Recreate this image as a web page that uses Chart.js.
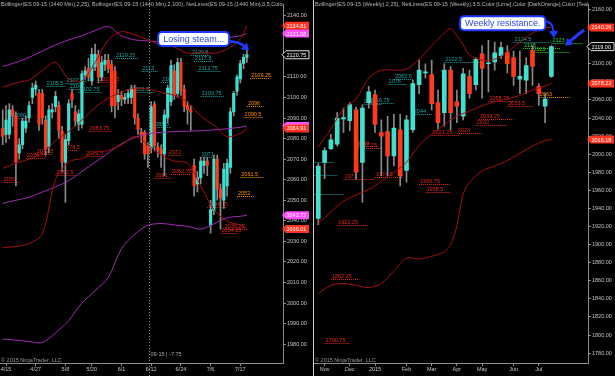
<!DOCTYPE html>
<html>
<head>
<meta charset="utf-8">
<title>ES 09-15 daily / weekly</title>
<script src="https://cdn.jsdelivr.net/npm/chart.js@4.4.1/dist/chart.umd.min.js"></script>
<style>
  html, body { margin: 0; background: #000; }
  #wrap { position: relative; width: 615px; height: 376px; overflow: hidden; background: #000; }
  #daily { position: absolute; left: 0; top: 0; }
  #weekly { position: absolute; left: 311px; top: 0; }
  #split { position: absolute; left: 313px; top: 0; width: 1px; height: 376px; background: #cfcfcf; }
</style>
</head>
<body>
<div id="wrap">
  <canvas id="daily" width="310" height="376"></canvas>
  <canvas id="weekly" width="304" height="376"></canvas>
  <div id="split"></div>
</div>
<script>
// ---------- daily panel (ES 09-15, 1440 min) ----------
const dayLabels = ['4/15', '4/27', '5/8', '5/20', '6/1', '6/12', '6/24', '7/6', '7/17'];
const dayLabelIdx = [1, 10, 19, 27, 36, 45, 54, 63, 72];
const dayPriceTicks = [1980, 1990, 2000, 2010, 2020, 2030, 2040, 2050, 2060, 2070, 2080, 2090, 2100, 2110, 2120, 2130, 2140];

const dayOpen = [2085, 2082, 2082, 2094, 2091, 2073, 2077, 2085, 2090, 2100,
  2104, 2102, 2102, 2089, 2076, 2093, 2095.5, 2096, 2083.5, 2068.5,
  2079, 2102, 2093, 2087, 2087, 2111, 2114, 2108, 2115, 2121,
  2110, 2116, 2118, 2116, 2113, 2098, 2101, 2099, 2100, 2100,
  2104.5, 2090, 2083, 2083, 2076.5, 2075.5, 2096.5, 2076, 2075, 2072.5,
  2090, 2098, 2113, 2102, 2117, 2104, 2096, 2094, 2067, 2058,
  2061, 2067, 2069, 2038, 2045, 2070, 2055.5, 2050, 2057, 2066,
  2093, 2103, 2109, 2116.5, 2119.5];
const dayHigh = [2094, 2096, 2097, 2096, 2093, 2080, 2090, 2091, 2098, 2107,
  2108, 2104, 2104, 2091, 2096, 2097, 2103, 2098, 2086, 2082,
  2099, 2104, 2096, 2094, 2113, 2115, 2119, 2124, 2126, 2123,
  2120, 2121, 2121, 2118, 2115, 2104, 2103, 2102, 2104, 2106,
  2106, 2092, 2085, 2084, 2078, 2098, 2098, 2078, 2077, 2094,
  2106, 2118, 2116, 2119, 2119, 2106, 2098, 2096, 2070, 2064,
  2071, 2071, 2071, 2050, 2072, 2072, 2058, 2068, 2070, 2095,
  2103, 2111, 2118, 2121, 2123];
const dayLow = [2077, 2078, 2080, 2086, 2057, 2070, 2075, 2083, 2088, 2097,
  2101, 2084, 2087, 2072, 2073, 2090, 2093, 2080, 2064, 2049,
  2077, 2095, 2086, 2084, 2085, 2109, 2108, 2106, 2113, 2107,
  2108, 2113, 2112, 2093, 2090, 2094, 2096, 2097, 2097, 2097,
  2087, 2082, 2078, 2070, 2066, 2073, 2074, 2071, 2066, 2062,
  2088, 2096, 2099, 2100, 2101, 2093, 2087, 2084, 2052, 2054,
  2058, 2063, 2062, 2034, 2043, 2050, 2036, 2046, 2052, 2063,
  2091, 2101, 2107, 2114, 2117];
const dayClose = [2081, 2089, 2094, 2091, 2068.5, 2077, 2088.5, 2088.5, 2096, 2104.5,
  2106, 2087, 2090, 2075, 2094, 2094, 2100.5, 2084, 2068.5, 2079.5,
  2097, 2099, 2088.5, 2092, 2111.5, 2113, 2110, 2121, 2121, 2110,
  2117, 2118, 2114, 2096, 2096, 2101, 2099, 2100, 2102, 2104.5,
  2090, 2084.5, 2082, 2072.5, 2072.5, 2095.5, 2076.5, 2074.5, 2072.5, 2091.5,
  2104.5, 2115.5, 2101, 2117, 2103.5, 2095.5, 2094, 2093, 2057, 2061,
  2069, 2069, 2067, 2045.5, 2070, 2055.5, 2051, 2065, 2068, 2093,
  2102, 2110, 2116.5, 2119.5, 2120.75];

// bollinger bands, read at these bar numbers
const dayBandIdx = [0, 4, 8, 12, 16, 20, 24, 28, 32, 36, 40, 44, 48, 52, 56, 60, 64, 68, 72, 74];
const dayBb25Up = [2105, 2107, 2108.5, 2113, 2117, 2109, 2108, 2117, 2128, 2132, 2130.5, 2128, 2125.5, 2124.5, 2121.5, 2122, 2121.5, 2123.5, 2128.5, 2134.81];
const dayBb25Mid = [2065.5, 2068, 2070, 2073, 2079, 2083.5, 2089, 2095, 2099.7, 2102.5, 2104.5, 2104, 2102.5, 2101, 2097.5, 2091, 2086.5, 2081, 2082.5, 2084.91];
const dayBb25Low = [2027, 2027.5, 2029, 2033.5, 2060, 2068.7, 2070.3, 2073.3, 2074.2, 2077, 2081, 2077, 2072, 2069, 2068, 2057, 2045.5, 2039.7, 2038, 2036.01];
const dayBb100Up = [2115, 2117, 2119.5, 2122.5, 2125.5, 2128, 2130, 2132.5, 2134.5, 2130, 2128, 2127.5, 2127, 2127, 2127.5, 2128, 2128.3, 2129, 2130, 2131.08];
const dayBb100Mid = [2048.5, 2050, 2051.5, 2054, 2056.5, 2059.5, 2064, 2068.5, 2073, 2077.5, 2080.5, 2082.3, 2083, 2083.4, 2083.6, 2083.8, 2084.2, 2084.8, 2085.5, 2086.06];
const dayBb100Low = [1982.5, 1982, 1981.3, 1980.8, 1985.5, 1991.5, 2000, 2006, 2012.5, 2026.5, 2033.5, 2037.8, 2038.7, 2038, 2037.3, 2036, 2038.5, 2041.5, 2042.2, 2042.72];

// NetLines: [price, from bar, to bar]
const dayNetTeal = [[2105.5, 13, 19], [2107.25, 19, 25], [2104, 20, 24], [2102.75, 23, 30], [2090, 3, 7],
  [2119.25, 34, 41], [2113, 42, 47], [2102.5, 39, 46], [2107.75, 48, 53], [2102, 49, 53],
  [2085.5, 45, 51], [2120.5, 57, 63], [2117.5, 58, 64], [2112.75, 59, 66], [2100.75, 60, 67], [2071, 60, 64]];
const dayNetRed = [[2083.75, 26, 33], [2072.5, 10, 15], [2070.75, 7, 13], [2074.5, 18, 23], [2071.5, 25, 31],
  [2062.5, 16, 22], [2059, 0, 5], [2107.75, 29, 35], [2072, 50, 54], [2061, 46, 51],
  [2062.75, 51, 57], [2046.75, 62, 68], [2036.25, 67, 74], [2034.25, 66, 71]];
const dayNetOrange = [[2109.25, 75, 81], [2096, 74, 79], [2090.5, 73, 79], [2061.5, 72, 79], [2052, 71, 76]];

// ---------- weekly panel (ES 09-15, weekly) ----------
const wkLabels = ['Nov', 'Dec', '2015', 'Feb', 'Mar', 'Apr', 'May', 'Jun', 'Jul'];
const wkLabelIdx = [1, 5, 9, 14, 18, 22, 26, 31, 35];
const wkPriceTicks = [1780, 1800, 1820, 1840, 1860, 1880, 1900, 1920, 1940, 1960, 1980, 2000, 2020, 2040, 2060, 2080, 2100, 2120, 2140, 2160];

const wkOpen = [1929, 1991, 2006, 2011, 2039, 2037, 2049, 1991, 2057, 2066,
  2024, 2025, 1998, 2027, 1982, 2027, 2077, 2090, 2088, 2057,
  2046, 2093, 2058, 2042, 2086, 2077, 2111, 2100, 2102, 2109,
  2113, 2107, 2083, 2082, 2115, 2075, 2053, 2086];
const wkHigh = [1990, 2007, 2022, 2046, 2051, 2057, 2052, 2054, 2075, 2071,
  2038, 2042, 2044, 2044, 2043, 2082, 2104, 2100, 2104, 2071,
  2100, 2097, 2071, 2095, 2093, 2107, 2120, 2126, 2124, 2124,
  2120, 2114, 2114, 2107, 2120, 2078, 2067, 2120];
const wkLow = [1922, 1973, 2005, 2009, 2024, 2026, 1972, 1947, 2051, 2024,
  1976, 1976, 1987, 1965, 1969, 2024, 2067, 2084, 2049, 2027,
  2031, 2027, 2035, 2038, 2062, 2071, 2062, 2069, 2093, 2106,
  2090, 2076, 2067, 2067, 2076, 2054, 2035, 2085];
const wkClose = [1987, 2004, 2016, 2040, 2040.5, 2055, 1980, 2051, 2069, 2033,
  2020, 1998, 2029, 1976, 2038, 2078, 2093, 2090.5, 2056, 2035,
  2093, 2046, 2053, 2089, 2067, 2105, 2095, 2100.5, 2112, 2118,
  2100, 2086, 2086, 2098, 2097, 2067, 2061, 2119];

const wkBandIdx = [0, 2, 4, 6, 8, 10, 12, 14, 16, 18, 20, 21, 22, 23, 24, 26, 28, 30, 32, 34, 36, 37];
const wkBbUp = [2008, 2028, 2050, 2061, 2084, 2093, 2093, 2094, 2105, 2120, 2134, 2139, 2131, 2121, 2110, 2104, 2105, 2113, 2124, 2134, 2139.5, 2140.26];
const wkBbMid = [1924, 1936, 1948, 1955, 1961, 1970, 1980, 1991, 2010, 2022, 2033, 2038, 2042, 2045, 2047.5, 2053.5, 2058, 2061, 2065, 2071, 2075.5, 2078.22];
const wkBbLow = [1846, 1855, 1857, 1855, 1852.5, 1857, 1871, 1885, 1884, 1887, 1892, 1900, 1921, 1956, 1969, 1981.5, 1987, 1993, 2001, 2009, 2015, 2016.18];

const wkNetTeal = [[2078, 11, 14], [2083.5, 12, 15], [2056.75, 8, 12], [2055, 7, 10], [2044, 15, 18],
  [2102.5, 20, 26], [2124.5, 31, 37], [1991.75, -6, 2.5], [1977, -6, 3], [1956.5, -6, 4]];
const wkNetLime = [[2118, 32.5, 38.5], [2113, 34, 40], [2123, 37, 42]];
const wkNetOrange = [[2063, 35, 40]];
const wkNetRed = [[2009, 6, 9.5], [2007.25, 6, 10], [1973, 4, 9], [1974.5, 9, 13.5], [2021.25, 18, 22.5],
  [2023, 22, 26], [2039.25, 25.5, 31], [2032, 25, 30], [2058.75, 27, 31], [2053.5, 30, 34],
  [1966.75, 16, 21], [1958.5, 17, 21], [1922.25, 3, 8], [1862.25, 2, 6.5], [1790.75, 1, 5]];

// ---------- styling ----------
const UP = '#3fe0d0';
const DOWN = '#ff3b1c';
const WICK = '#8a8a8a';
const AXIS = '#8c8c8c';
const TEXT = '#c4c4c4';
const DARKRED = '#a80f0f';
const PURPLE = '#a42ab6';
const TEAL = '#1fa6a6';
const NETRED = '#e8281a';
const ORANGE = '#ff8c00';
const LIME = '#2ed82e';
const TAGRED = '#ff3320';
const TAGPINK = '#ff4cff';
const SMALL = '5.5px "Liberation Sans", Arial, sans-serif';

Chart.defaults.font.family = '"Liberation Sans", Arial, sans-serif';
Chart.defaults.font.size = 5.5;
Chart.defaults.color = TEXT;

const last = a => a[a.length - 1];

function arrow(ctx, p0, p1, p2, lw) {
  const ang = Math.atan2(p2[1] - p1[1], p2[0] - p1[0]);
  const hl = 7, hw = 4.5;
  const bx = p2[0] - Math.cos(ang) * hl, by = p2[1] - Math.sin(ang) * hl;
  ctx.lineWidth = lw;
  ctx.beginPath();
  ctx.moveTo(p0[0], p0[1]);
  ctx.quadraticCurveTo(p1[0], p1[1], bx, by);
  ctx.stroke();
  ctx.beginPath();
  ctx.moveTo(p2[0], p2[1]);
  ctx.lineTo(bx + Math.sin(ang) * hw, by - Math.cos(ang) * hw);
  ctx.lineTo(bx - Math.sin(ang) * hw, by + Math.cos(ang) * hw);
  ctx.closePath();
  ctx.fill();
}

function overlay(cfg) {
  return {
    id: 'overlay',
    beforeDatasetsDraw(chart) {
      const { ctx, chartArea: a, scales: { x, y } } = chart;
      ctx.save();
      ctx.beginPath();
      ctx.rect(a.left, a.top, a.right - a.left, a.bottom - a.top);
      ctx.clip();
      ctx.font = SMALL;
      ctx.lineWidth = 1;
      ctx.setLineDash([1, 1]);
      for (const [list, color] of cfg.nets) {
        ctx.strokeStyle = color;
        ctx.fillStyle = color;
        for (const [v, from, to] of list) {
          const py = Math.round(y.getPixelForValue(v)) + 0.5;
          const x0 = x.getPixelForValue(from), x1 = x.getPixelForValue(to);
          ctx.beginPath();
          ctx.moveTo(x0, py);
          ctx.lineTo(x1, py);
          ctx.stroke();
          ctx.fillText(String(v), x0 + 1, py - 1.5);
        }
      }
      ctx.restore();
    },
    afterDraw(chart) {
      const { ctx, chartArea: a, scales: { x, y } } = chart;
      ctx.save();
      ctx.font = SMALL;

      // indicator legend along the top
      ctx.save();
      ctx.beginPath();
      ctx.rect(a.left, 0, a.right - a.left, 12);
      ctx.clip();
      ctx.fillStyle = '#b8b8b8';
      ctx.textBaseline = 'top';
      ctx.fillText(cfg.legend, a.left + 1, 1.5);
      ctx.restore();

      ctx.fillStyle = '#9a9a9a';
      ctx.textBaseline = 'alphabetic';
      ctx.fillText('\u00a9 2015 NinjaTrader, LLC', a.left + 1, a.bottom - 1);

      if (cfg.cross) {
        const px = Math.round(x.getPixelForValue(cfg.cross.at)) + 0.5;
        ctx.strokeStyle = '#9a9a9a';
        ctx.lineWidth = 1;
        ctx.setLineDash([1, 2]);
        ctx.beginPath();
        ctx.moveTo(px, 0);
        ctx.lineTo(px, chart.height);
        ctx.stroke();
        ctx.setLineDash([]);
        ctx.fillStyle = '#a8a8a8';
        ctx.fillText(cfg.cross.text, px + 1, a.bottom - 7);
      }

      // callout box + arrows
      const c = cfg.callout;
      const bx = x.getPixelForValue(c.at[0]), by = y.getPixelForValue(c.at[1]);
      ctx.font = '9px "Liberation Sans", Arial, sans-serif';
      const w = ctx.measureText(c.text).width + 10, h = 14;
      ctx.fillStyle = '#ffffff';
      ctx.strokeStyle = '#1c37ff';
      ctx.lineWidth = 2;
      ctx.beginPath();
      ctx.roundRect(bx, by, w, h, 4);
      ctx.fill();
      ctx.stroke();
      ctx.fillStyle = '#2b45e0';
      ctx.textBaseline = 'middle';
      ctx.fillText(c.text, bx + 5, by + h / 2 + 0.5);
      ctx.strokeStyle = '#1f3bff';
      ctx.fillStyle = '#1f3bff';
      for (const ar of c.arrows) {
        const pts = ar.pts.map(p => [x.getPixelForValue(p[0]), y.getPixelForValue(p[1])]);
        arrow(ctx, pts[0], pts[1], pts[2], ar.lw);
      }

      // price tags on the axis
      ctx.font = SMALL;
      for (const [v, bg, border] of cfg.tags) {
        const py = y.getPixelForValue(v);
        const x0 = a.right - 1, x1 = a.right + 26;
        ctx.beginPath();
        ctx.moveTo(x0, py);
        ctx.lineTo(x0 + 4, py - 4);
        ctx.lineTo(x1, py - 4);
        ctx.lineTo(x1, py + 4);
        ctx.lineTo(x0 + 4, py + 4);
        ctx.closePath();
        ctx.fillStyle = bg;
        ctx.fill();
        if (border) {
          ctx.strokeStyle = border;
          ctx.lineWidth = 1;
          ctx.stroke();
        }
        ctx.fillStyle = '#ffffff';
        ctx.textBaseline = 'middle';
        ctx.fillText(v.toFixed(2), x0 + 4.5, py + 0.5);
      }
      ctx.restore();
    }
  };
}

function makeChart(id, p) {
  const idx = p.open.map((_, i) => i);
  const band = vals => p.bandIdx.map((k, j) => ({ x: k, y: vals[j] }));
  const lines = p.bands.map(([vals, color]) => ({
    type: 'line',
    data: band(vals),
    borderColor: color,
    borderWidth: 1,
    pointRadius: 0,
    tension: 0.3,
    order: 0
  }));
  return new Chart(document.getElementById(id), {
    type: 'bar',
    data: {
      datasets: [
        ...lines,
        {
          data: idx.map(i => ({ x: i, y: [p.open[i], p.close[i]] })),
          backgroundColor: idx.map(i => p.close[i] >= p.open[i] ? UP : DOWN),
          barThickness: p.bodyW,
          minBarLength: 1,
          grouped: false,
          order: 1
        },
        {
          data: idx.map(i => ({ x: i, y: [p.low[i], p.high[i]] })),
          backgroundColor: WICK,
          barThickness: 1,
          grouped: false,
          order: 2
        }
      ]
    },
    options: {
      responsive: false,
      animation: false,
      events: [],
      layout: { padding: { left: p.padLeft, right: 0, top: 0, bottom: 0 } },
      plugins: { legend: { display: false }, tooltip: { enabled: false } },
      scales: {
        x: {
          type: 'linear',
          bounds: 'data',
          min: p.xMin,
          max: p.xMax,
          offset: false,
          border: { color: AXIS },
          grid: { drawOnChartArea: false, offset: false, color: AXIS, tickLength: 3 },
          ticks: {
            autoSkip: false,
            maxRotation: 0,
            padding: 0,
            color: TEXT,
            callback: v => p.labels[p.labelIdx.indexOf(v)] ?? ''
          },
          afterBuildTicks: s => { s.ticks = p.labelIdx.map(v => ({ value: v })); },
          afterFit: s => { s.height = 13; }
        },
        y: {
          position: 'right',
          bounds: 'data',
          min: p.yMin,
          max: p.yMax,
          border: { color: AXIS },
          grid: { drawOnChartArea: false, color: AXIS, tickLength: 3 },
          ticks: { color: TEXT, padding: 1, callback: v => v.toFixed(2) },
          afterBuildTicks: s => { s.ticks = p.priceTicks.map(v => ({ value: v })); },
          afterFit: s => { s.width = 27; }
        }
      }
    },
    plugins: [overlay(p.overlay)]
  });
}

makeChart('daily', {
  open: dayOpen, high: dayHigh, low: dayLow, close: dayClose,
  labels: dayLabels, labelIdx: dayLabelIdx, priceTicks: dayPriceTicks,
  bandIdx: dayBandIdx,
  bands: [[dayBb25Up, DARKRED], [dayBb25Mid, DARKRED], [dayBb25Low, DARKRED],
          [dayBb100Up, PURPLE], [dayBb100Mid, PURPLE], [dayBb100Low, PURPLE]],
  bodyW: 2.5, padLeft: 0,
  xMin: -0.82, xMax: 84.94, yMin: 1970.87, yMax: 2145.29,
  overlay: {
    legend: 'Bollinger(ES 09-15 (1440 Min),2,25), Bollinger(ES 09-15 (1440 Min),2,100), NetLines(ES 09-15 (1440 Min),3,5,Color [Lime],Color [DarkOrange],Color [Teal])',
    nets: [[dayNetTeal, TEAL], [dayNetRed, NETRED], [dayNetOrange, ORANGE]],
    cross: { at: 44.3, text: '09-15 | -7.75' },
    callout: {
      text: 'Losing steam...', at: [47.1, 2131.8],
      arrows: [{ pts: [[68.3, 2127.5], [71.9, 2127.0], [74.6, 2122.7]], lw: 2.5 }]
    },
    tags: [[last(dayBb25Up), TAGRED], [last(dayBb100Up), TAGPINK], [last(dayClose), '#000', '#e0e0e0'],
           [last(dayBb100Mid), TAGPINK], [last(dayBb25Mid), TAGRED],
           [last(dayBb100Low), TAGPINK], [last(dayBb25Low), TAGRED]]
  }
});

makeChart('weekly', {
  open: wkOpen, high: wkHigh, low: wkLow, close: wkClose,
  labels: wkLabels, labelIdx: wkLabelIdx, priceTicks: wkPriceTicks,
  bandIdx: wkBandIdx,
  bands: [[wkBbUp, DARKRED], [wkBbMid, DARKRED], [wkBbLow, DARKRED]],
  bodyW: 4, padLeft: 3,
  xMin: -0.683, xMax: 42.81, yMin: 1769.07, yMax: 2165.79,
  overlay: {
    legend: 'Bollinger(ES 09-15 (Weekly),2,25), NetLines(ES 09-15 (Weekly),3,5,Color [Lime],Color [DarkOrange],Color [Teal])',
    nets: [[wkNetTeal, TEAL], [wkNetRed, NETRED], [wkNetLime, LIME], [wkNetOrange, ORANGE]],
    callout: {
      text: 'Weekly resistance.', at: [22.5, 2152.7],
      arrows: [
        { pts: [[35.9, 2147.2], [37.25, 2146.1], [37.4, 2128.6]], lw: 2 },
        { pts: [[42.2, 2137.4], [40.7, 2129.7], [39.2, 2119.9]], lw: 3 }
      ]
    },
    tags: [[last(wkBbUp), TAGRED], [last(wkClose), '#000', '#e0e0e0'],
           [last(wkBbMid), TAGRED], [last(wkBbLow), TAGRED]]
  }
});
</script>
</body>
</html>
